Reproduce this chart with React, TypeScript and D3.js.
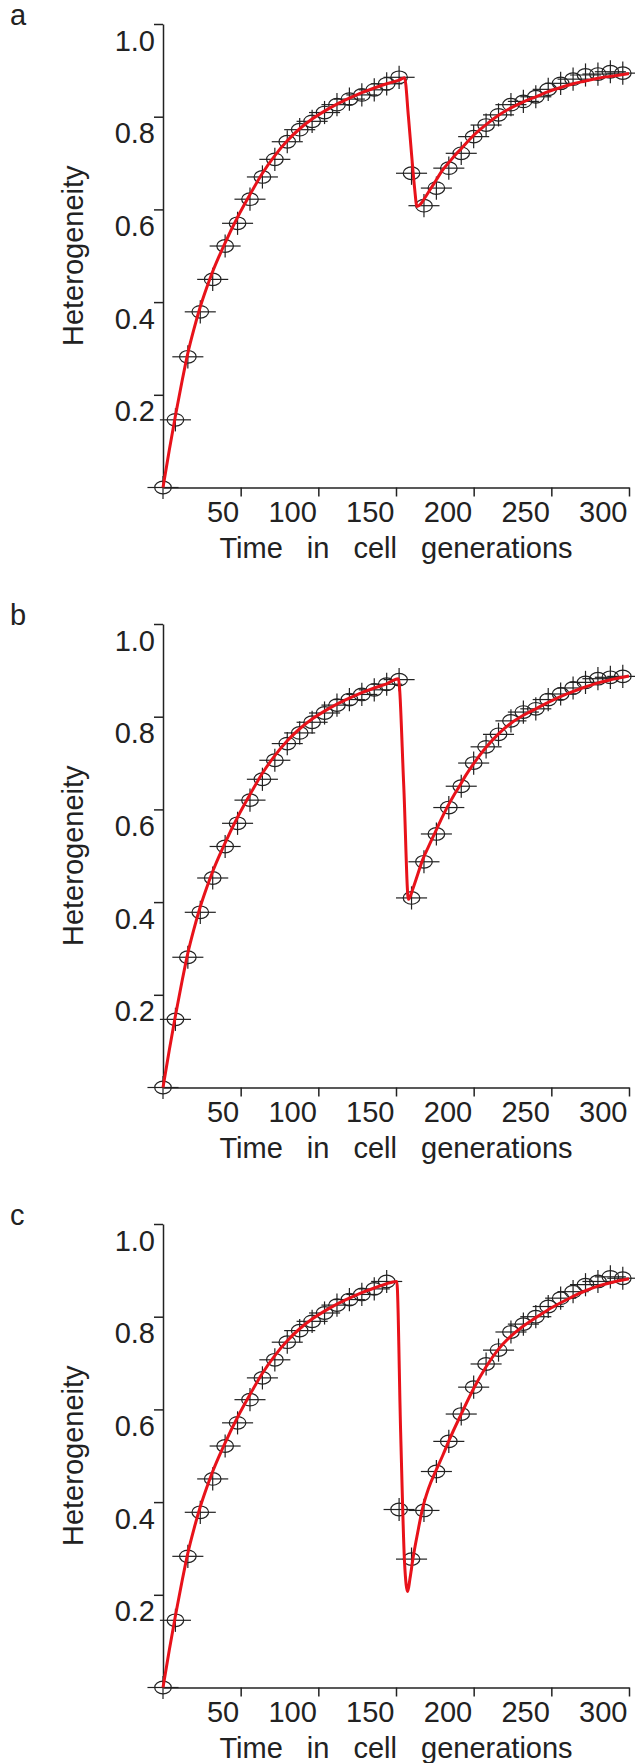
import React, { useEffect, useRef } from 'react';
import * as d3 from 'd3';

// sampling times (cell generations) of the simulated populations
const sampleTimes = [
  0, 8, 16, 24, 32, 40, 48, 56, 64, 72, 80, 88, 96, 104, 112, 120, 128, 136, 144,
  152, 160, 168, 176, 184, 192, 200, 208, 216, 224, 232, 240, 248, 256, 264, 272,
  280, 288, 296,
];

// measured heterogeneity, one array per panel
const heteroA = [
  0, 0.146, 0.282, 0.379, 0.449, 0.521, 0.57, 0.622, 0.67, 0.708, 0.746, 0.772, 0.79,
  0.809, 0.826, 0.838, 0.847, 0.858, 0.871, 0.885, 0.678, 0.608, 0.646, 0.689, 0.721,
  0.757, 0.782, 0.804, 0.826, 0.833, 0.843, 0.859, 0.872, 0.881, 0.89, 0.892, 0.897, 0.894,
];
const heteroB = [
  0, 0.147, 0.281, 0.378, 0.452, 0.52, 0.57, 0.62, 0.665, 0.706, 0.742, 0.765, 0.788,
  0.808, 0.825, 0.837, 0.848, 0.858, 0.87, 0.88, 0.409, 0.487, 0.547, 0.604, 0.65,
  0.7, 0.735, 0.762, 0.791, 0.81, 0.817, 0.837, 0.849, 0.862, 0.874, 0.882, 0.885, 0.887,
];
const heteroC = [
  0, 0.145, 0.283, 0.378, 0.45, 0.521, 0.571, 0.621, 0.668, 0.707, 0.745, 0.77, 0.79,
  0.808, 0.825, 0.837, 0.848, 0.86, 0.876, 0.384, 0.277, 0.382, 0.466, 0.531, 0.59,
  0.648, 0.698, 0.728, 0.767, 0.784, 0.8, 0.822, 0.84, 0.854, 0.869, 0.876, 0.886, 0.883,
];

// error bars (same for every sample)
const errTime = 10;
const errHetero = 0.025;

// model curve: common rise before the bottleneck
const fitRiseTimes = [0, 4, 8, 12, 16, 20, 24, 28, 32, 36, 40, 48, 56, 64, 72, 80, 88, 96, 104, 112, 120, 128, 136, 144];
const fitRiseValues = [
  0, 0.08, 0.155, 0.225, 0.29, 0.343, 0.39, 0.43, 0.466, 0.498, 0.528, 0.583, 0.632,
  0.678, 0.716, 0.748, 0.774, 0.795, 0.812, 0.827, 0.84, 0.852, 0.862, 0.871,
];

// model curve after the bottleneck, per panel
const fitTailTimesA = [152, 155.5, 158, 160, 162, 163.5, 166, 168, 172, 176, 180, 184, 188, 192, 200, 208, 216, 224, 232, 240, 248, 256, 264, 272, 280, 290, 300];
const fitTailValuesA = [
  0.879, 0.884, 0.8, 0.72, 0.645, 0.606, 0.612, 0.622, 0.643, 0.664, 0.685, 0.701, 0.717,
  0.731, 0.76, 0.783, 0.803, 0.819, 0.832, 0.843, 0.854, 0.863, 0.871, 0.877, 0.883, 0.888, 0.893,
];
const fitTailTimesB = [151.5, 155, 158, 161, 164, 167, 171, 175, 179, 183, 187, 191, 195, 200, 208, 216, 224, 232, 240, 250, 260, 270, 280, 290, 300];
const fitTailValuesB = [
  0.882, 0.65, 0.406, 0.43, 0.46, 0.49, 0.52, 0.549, 0.578, 0.605, 0.629, 0.651, 0.674,
  0.699, 0.734, 0.763, 0.786, 0.803, 0.817, 0.834, 0.849, 0.862, 0.873, 0.881, 0.888,
];
const fitTailTimesC = [148, 150.5, 153, 155.5, 157.5, 159, 161, 164, 167, 171, 176, 180, 184, 192, 200, 208, 216, 224, 232, 240, 248, 256, 264, 272, 280, 290, 300];
const fitTailValuesC = [
  0.875, 0.876, 0.55, 0.27, 0.207, 0.235, 0.28, 0.335, 0.385, 0.43, 0.47, 0.5, 0.532,
  0.59, 0.645, 0.692, 0.73, 0.758, 0.78, 0.798, 0.815, 0.83, 0.844, 0.856, 0.866, 0.875, 0.882,
];

const panelLabels = ['a', 'b', 'c'];
const xTicks = [50, 100, 150, 200, 250, 300];
const yTicks = [0.2, 0.4, 0.6, 0.8, 1.0];
const xLabel = 'Time in cell generations';
const yLabel = 'Heterogeneity';

const panels = [
  { label: panelLabels[0], values: heteroA, fitT: fitRiseTimes.concat(fitTailTimesA), fitV: fitRiseValues.concat(fitTailValuesA) },
  { label: panelLabels[1], values: heteroB, fitT: fitRiseTimes.concat(fitTailTimesB), fitV: fitRiseValues.concat(fitTailValuesB) },
  { label: panelLabels[2], values: heteroC, fitT: fitRiseTimes.concat(fitTailTimesC), fitV: fitRiseValues.concat(fitTailValuesC) },
];

const W = 635;
const H = 1763;
const FONT = "'Liberation Sans', Arial, sans-serif";
const INK = '#222';

const App: React.FC = () => {
  const svgRef = useRef<SVGSVGElement>(null);

  useEffect(() => {
    if (!svgRef.current) return;
    const svg = d3.select(svgRef.current);
    svg.selectAll('*').remove();

    const x = d3.scaleLinear().domain([0, 300]).range([163, 629]);
    const y = d3.scaleLinear().domain([0, 1]).range([487.5, 24]);

    panels.forEach((p, i) => {
      const g = svg.append('g').attr('transform', `translate(0,${i * 600})`);

      // axes
      const xAxis = g.append('g')
        .attr('transform', `translate(0,${y(0)})`)
        .call(d3.axisBottom(x).tickValues(xTicks).tickSize(9).tickSizeOuter(0).tickFormat(d3.format('d') as any));
      const yAxis = g.append('g')
        .attr('transform', `translate(${x(0)},0)`)
        .call(d3.axisLeft(y).tickValues(yTicks).tickSize(9).tickSizeOuter(0).tickFormat(d3.format('.1f') as any));

      [xAxis, yAxis].forEach(ax => {
        ax.attr('font-family', FONT).attr('font-size', 29);
        ax.select('.domain').attr('stroke', INK).attr('stroke-width', 1.5);
        ax.selectAll('.tick line').attr('stroke', INK).attr('stroke-width', 1.5);
        ax.selectAll('.tick text').attr('fill', INK);
      });
      // labels sit right of / below their ticks, like the original plot
      xAxis.selectAll('.tick text').attr('text-anchor', 'end').attr('x', -2).attr('y', 34).attr('dy', 0);
      yAxis.selectAll('.tick text').attr('text-anchor', 'end').attr('x', -8).attr('y', 26).attr('dy', 0);

      // markers with error crosses
      const pts = g.append('g').attr('stroke', INK).attr('stroke-width', 1.2).attr('fill', 'none');
      p.values.forEach((v, k) => {
        const t = sampleTimes[k];
        const cx = x(t);
        const cy = y(v);
        pts.append('line').attr('x1', x(t - errTime)).attr('x2', x(t + errTime)).attr('y1', cy).attr('y2', cy);
        pts.append('line').attr('x1', cx).attr('x2', cx).attr('y1', y(v - errHetero)).attr('y2', y(v + errHetero));
        pts.append('ellipse').attr('cx', cx).attr('cy', cy).attr('rx', 8.3).attr('ry', 6.3);
      });

      // model curve
      const line = d3.line<number>()
        .x((_, k) => x(p.fitT[k]))
        .y(d => y(d))
        .curve(d3.curveMonotoneX);
      g.append('path')
        .attr('d', line(p.fitV) as string)
        .attr('fill', 'none')
        .attr('stroke', '#e8121a')
        .attr('stroke-width', 3)
        .attr('stroke-linejoin', 'round');

      // texts
      g.append('text')
        .attr('x', 10).attr('y', y(1) + 1)
        .attr('font-family', FONT).attr('font-size', 29).attr('fill', INK)
        .text(p.label);
      g.append('text')
        .attr('transform', `translate(83,${(y(0) + y(1)) / 2}) rotate(-90)`)
        .attr('text-anchor', 'middle')
        .attr('font-family', FONT).attr('font-size', 29).attr('fill', INK)
        .text(yLabel);
      g.append('text')
        .attr('x', (x(0) + x(300)) / 2).attr('y', y(0) + 70.5)
        .attr('text-anchor', 'middle')
        .attr('font-family', FONT).attr('font-size', 29).attr('fill', INK)
        .attr('word-spacing', 16)
        .text(xLabel);
    });
  }, []);

  return (
    <div style={{ position: 'absolute', left: 0, top: 0, width: W, height: H, background: '#fff' }}>
      <svg ref={svgRef} width={W} height={H} style={{ display: 'block' }} />
    </div>
  );
};

export default App;
